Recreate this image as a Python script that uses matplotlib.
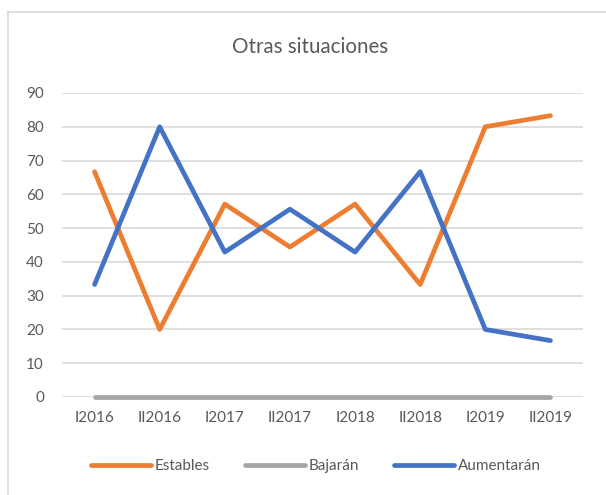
import matplotlib
matplotlib.use("Agg")
import matplotlib.pyplot as plt
from matplotlib.lines import Line2D

categories = ["I2016", "II2016", "I2017", "II2017", "I2018", "II2018", "I2019", "II2019"]
estables = [66.7, 20.0, 57.1, 44.4, 57.1, 33.3, 80.0, 83.3]
bajaran = [0, 0, 0, 0, 0, 0, 0, 0]
aumentaran = [33.3, 80.0, 42.9, 55.6, 42.9, 66.7, 20.0, 16.7]
yticks = [0, 10, 20, 30, 40, 50, 60, 70, 80, 90]

plt.rcParams['font.family'] = ['Lato', 'DejaVu Sans']
W, H = 606, 495
fig = plt.figure(figsize=(W / 100, H / 100), dpi=100)
ax = fig.add_axes([62 / W, 1 - 397 / H, (583 - 62) / W, (397 - 93) / H])

txt = '#595959'
x = list(range(len(categories)))
lw = 3.4
common = dict(lw=lw, solid_capstyle='round', solid_joinstyle='round', clip_on=False)
ax.plot(x, estables, color='#ED7D31', label='Estables', zorder=3, **common)
ax.plot(x, bajaran, color='#A5A5A5', label='Bajarán', zorder=3, **common)
ax.plot(x, aumentaran, color='#4472C4', label='Aumentarán', zorder=4, **common)

ax.set_xlim(-0.5, len(categories) - 0.5)
ax.set_ylim(0, 90)
ax.set_yticks(yticks)
ax.set_xticks(x)
ax.set_xticklabels(categories)
ax.grid(axis='y', color='#D9D9D9', lw=1.2)
ax.set_axisbelow(True)
for s in ax.spines.values():
    s.set_visible(False)
ax.tick_params(length=0, labelsize=11, colors=txt)
ax.tick_params(axis='x', pad=10)
ax.tick_params(axis='y', pad=13)

fig.text(310 / W, 1 - 47 / H, 'Otras situaciones', ha='center', va='center', fontsize=14.8, color=txt)

leg = fig.legend(loc='center', bbox_to_anchor=(316 / W, 1 - 466 / H), ncol=3, frameon=False,
                 fontsize=11, handlelength=3.9, handletextpad=0.25, columnspacing=2.3)
for t in leg.get_texts():
    t.set_color(txt)

# chart frame
fig.add_artist(Line2D([8 / W, 8 / W], [0, 1 - 12 / H], color='#D9D9D9', lw=1.2, transform=fig.transFigure))
fig.add_artist(Line2D([8 / W, 1], [1 - 12 / H, 1 - 12 / H], color='#D9D9D9', lw=1.2, transform=fig.transFigure))

fig.savefig('out.png', dpi=100)
